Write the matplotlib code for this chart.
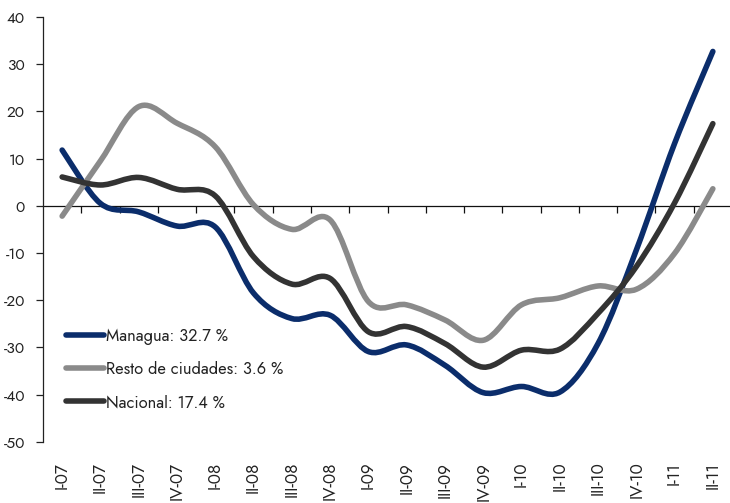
import numpy as np
import matplotlib
matplotlib.use("Agg")
import matplotlib.pyplot as plt
from matplotlib.path import Path
from matplotlib.patches import PathPatch
from matplotlib.lines import Line2D
from matplotlib import font_manager as fm

_avail = {f.name for f in fm.fontManager.ttflist}
_font = next((f for f in ["Jost", "Futura", "League Spartan", "Questrial", "DejaVu Sans"]
              if f in _avail), "DejaVu Sans")
plt.rcParams['font.family'] = [_font, 'DejaVu Sans']

categories = ["I-07", "II-07", "III-07", "IV-07",
              "I-08", "II-08", "III-08", "IV-08",
              "I-09", "II-09", "III-09", "IV-09",
              "I-10", "II-10", "III-10", "IV-10",
              "I-11", "II-11"]

managua = [11.8, 0.5, -1.3, -4.3, -4.5, -18.5, -23.9, -23.2, -30.9, -29.5,
           -33.8, -39.6, -38.3, -39.5, -29.2, -9.4, 13.2, 32.7]
resto = [-2.2, 9.5, 21.0, 17.5, 12.5, 0.2, -5.0, -3.0, -20.3, -21.0,
         -24.2, -28.5, -21.0, -19.5, -17.0, -17.7, -10.1, 3.6]
nacional = [6.1, 4.4, 6.0, 3.5, 2.1, -10.8, -16.6, -15.4, -26.7, -25.6,
            -29.2, -34.2, -30.6, -30.4, -22.8, -12.9, 0.6, 17.4]

labels = ["Managua: 32.7 %", "Resto de ciudades: 3.6 %", "Nacional: 17.4 %"]
colors = ["#0b2d6b", "#8a8a8a", "#333333"]
yticks = [-50, -40, -30, -20, -10, 0, 10, 20, 30, 40]

W, H = 730, 503
fig = plt.figure(figsize=(W / 100, H / 100), dpi=100)
ax = fig.add_axes([43 / W, (H - 441.7) / H, (732 - 43) / W, (441.7 - 17) / H])


def smooth_path(yvals):
    y = np.asarray(yvals, dtype=float)
    n = len(y)
    x = np.arange(n, dtype=float)
    P = np.column_stack([x, y])
    verts = [P[0]]
    codes = [Path.MOVETO]
    for i in range(n - 1):
        pm = P[i - 1] if i > 0 else P[i]
        pn = P[i + 2] if i + 2 < n else P[i + 1]
        c1 = P[i] + (P[i + 1] - pm) / 6.0
        c2 = P[i + 1] - (pn - P[i]) / 6.0
        verts += [c1, c2, P[i + 1]]
        codes += [Path.CURVE4] * 3
    return Path(np.array(verts), codes)


lw = 4.0
handles = []
for series, col, lab in zip([managua, resto, nacional], colors, labels):
    patch = PathPatch(smooth_path(series), facecolor="none", edgecolor=col,
                      lw=lw, capstyle="round", joinstyle="round", zorder=3)
    ax.add_patch(patch)
    handles.append(Line2D([], [], color=col, lw=lw, solid_capstyle="round"))

ax.set_xlim(-0.5, len(categories) - 0.5)
ax.set_ylim(-50, 40)

for s in ["right", "bottom"]:
    ax.spines[s].set_visible(False)
ax.spines["left"].set_color("#222222")
ax.spines["left"].set_linewidth(0.9)
ax.spines["top"].set_position(("data", 0))
ax.spines["top"].set_color("#111111")
ax.spines["top"].set_linewidth(0.9)
ax.spines["top"].set_zorder(2)

ax.set_yticks(yticks)
ax.set_yticklabels([str(v) for v in yticks])
ax.tick_params(axis="y", which="major", direction="out", length=5, width=0.9,
               color="#222222", pad=8, labelsize=11.2, labelcolor="#222222")

ax.set_xticks(np.arange(len(categories)))
ax.set_xticklabels(categories, rotation=90, va="top", ha="center")
ax.set_xticks(np.arange(0.5, len(categories) - 1, 1.0), minor=True)
ax.tick_params(axis="x", which="major", bottom=True, top=False, length=0,
               pad=14.4, labelsize=12.3, labelcolor="#222222")
ax.tick_params(axis="x", which="minor", bottom=False, top=True, direction="in",
               length=5, width=0.9, color="#111111")

leg = ax.legend(handles, labels, loc="upper left",
                bbox_to_anchor=(66 / W, 1 - 328 / H),
                bbox_transform=fig.transFigure, frameon=False,
                borderaxespad=0, borderpad=0, handlelength=2.3,
                handletextpad=0.12, labelspacing=0.98, fontsize=11.8)
for t in leg.get_texts():
    t.set_color("#222222")

fig.savefig("out.png", dpi=100)
